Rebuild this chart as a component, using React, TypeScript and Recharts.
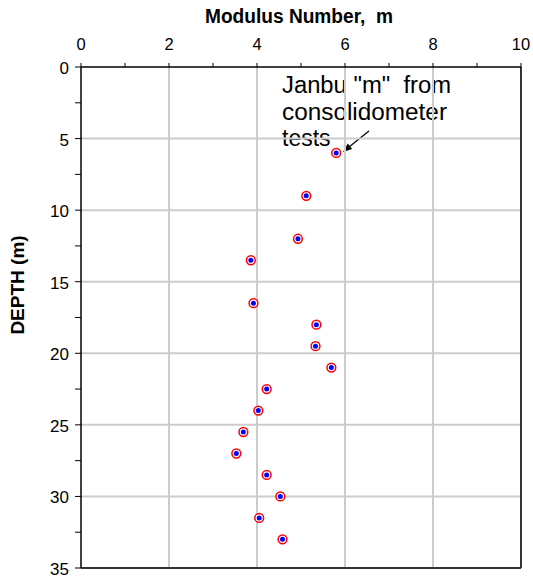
import React from 'react'
import { ScatterChart, Scatter, XAxis, YAxis, ReferenceLine, Customized } from 'recharts'

// Janbu modulus number vs depth
const modulus = [5.8, 5.12, 4.93, 3.86, 3.92, 5.35, 5.33, 5.69, 4.22, 4.03, 3.69, 3.53, 4.22, 4.53, 4.05, 4.58]
const depth = [6, 9, 12, 13.5, 16.5, 18, 19.5, 21, 22.5, 24, 25.5, 27, 28.5, 30, 31.5, 33]

const xTicks = [0, 1, 2, 3, 4, 5, 6, 7, 8, 9, 10]
const yTicks = [0, 2.5, 5, 7.5, 10, 12.5, 15, 17.5, 20, 22.5, 25, 27.5, 30, 32.5, 35]
const xGrid = [2, 4, 6, 8]
const yGrid = [5, 10, 15, 20, 25, 30]

const data = modulus.map((m, i) => ({ m, depth: depth[i] }))

const FONT = '"Liberation Sans", Arial, sans-serif'

const Marker = (props: any) => {
  const { cx, cy } = props
  return (
    <g>
      <circle cx={cx} cy={cy} r={4.4} fill="#fff" stroke="#ff0000" strokeWidth={1.5} />
      <circle cx={cx} cy={cy} r={2.5} fill="#0000ff" />
    </g>
  )
}

const XTick = (props: any) => {
  const { x, payload } = props
  if (payload.value % 2 !== 0) return null
  return (
    <text x={x} y={50} textAnchor="middle" fontSize={16.5} fontFamily={FONT} fill="#000">
      {payload.value}
    </text>
  )
}

const YTick = (props: any) => {
  const { x, y, payload } = props
  if (payload.value % 5 !== 0) return null
  return (
    <text x={x - 4} y={y + 7} textAnchor="end" fontSize={17} fontFamily={FONT} fill="#000">
      {payload.value}
    </text>
  )
}

const Notes = () => (
  <g fontFamily={FONT}>
    <text x={299} y={23} textAnchor="middle" fontSize={20} fontWeight="bold" fill="#000"
      textLength={188} lengthAdjust="spacingAndGlyphs" style={{ whiteSpace: 'pre' }}>
      {'Modulus Number,  m'}
    </text>
    <text x={24} y={285} textAnchor="middle" fontSize={19} fontWeight="bold" fill="#000" transform="rotate(-90 24 285)">
      DEPTH (m)
    </text>
    <text x={282} y={93} fontSize={23} fill="#000" textLength={169} lengthAdjust="spacingAndGlyphs" style={{ whiteSpace: 'pre' }}>
      {'Janbu "m"  from'}
    </text>
    <text x={282} y={120} fontSize={23} fill="#000" textLength={165} lengthAdjust="spacingAndGlyphs">consolidometer</text>
    <text x={282} y={146} fontSize={23} fill="#000">tests</text>
    <line x1={369} y1={131} x2={349} y2={147} stroke="#000" strokeWidth={1.3} />
    <polygon points="343,152 352.2,149 347.8,143.6" fill="#000" />
  </g>
)

export default function App() {
  return (
    <div style={{ position: 'absolute', left: 0, top: 0, background: '#fff' }}>
      <ScatterChart width={533} height={579} margin={{ top: 0, right: 12, bottom: 11, left: 0 }}>
        {xGrid.map((v) => (
          <ReferenceLine key={'x' + v} x={v} stroke="#cccccc" strokeWidth={2} />
        ))}
        {yGrid.map((v) => (
          <ReferenceLine key={'y' + v} y={v} stroke="#cccccc" strokeWidth={2} />
        ))}
        <ReferenceLine x={10} stroke="#333" strokeWidth={2} />
        <ReferenceLine y={35} stroke="#333" strokeWidth={2} />
        <XAxis
          type="number"
          dataKey="m"
          orientation="top"
          domain={[0, 10]}
          ticks={xTicks}
          height={67}
          tickSize={4}
          tick={<XTick />}
          axisLine={{ stroke: '#000', strokeWidth: 1.5 }}
          tickLine={{ stroke: '#000' }}
          interval={0}
        />
        <YAxis
          type="number"
          dataKey="depth"
          domain={[0, 35]}
          reversed
          ticks={yTicks}
          width={81}
          tickSize={6}
          tick={<YTick />}
          axisLine={{ stroke: '#000', strokeWidth: 1.5 }}
          tickLine={{ stroke: '#000' }}
          interval={0}
        />
        <Scatter data={data} shape={<Marker />} isAnimationActive={false} />
        <Customized component={<Notes />} />
      </ScatterChart>
    </div>
  )
}
